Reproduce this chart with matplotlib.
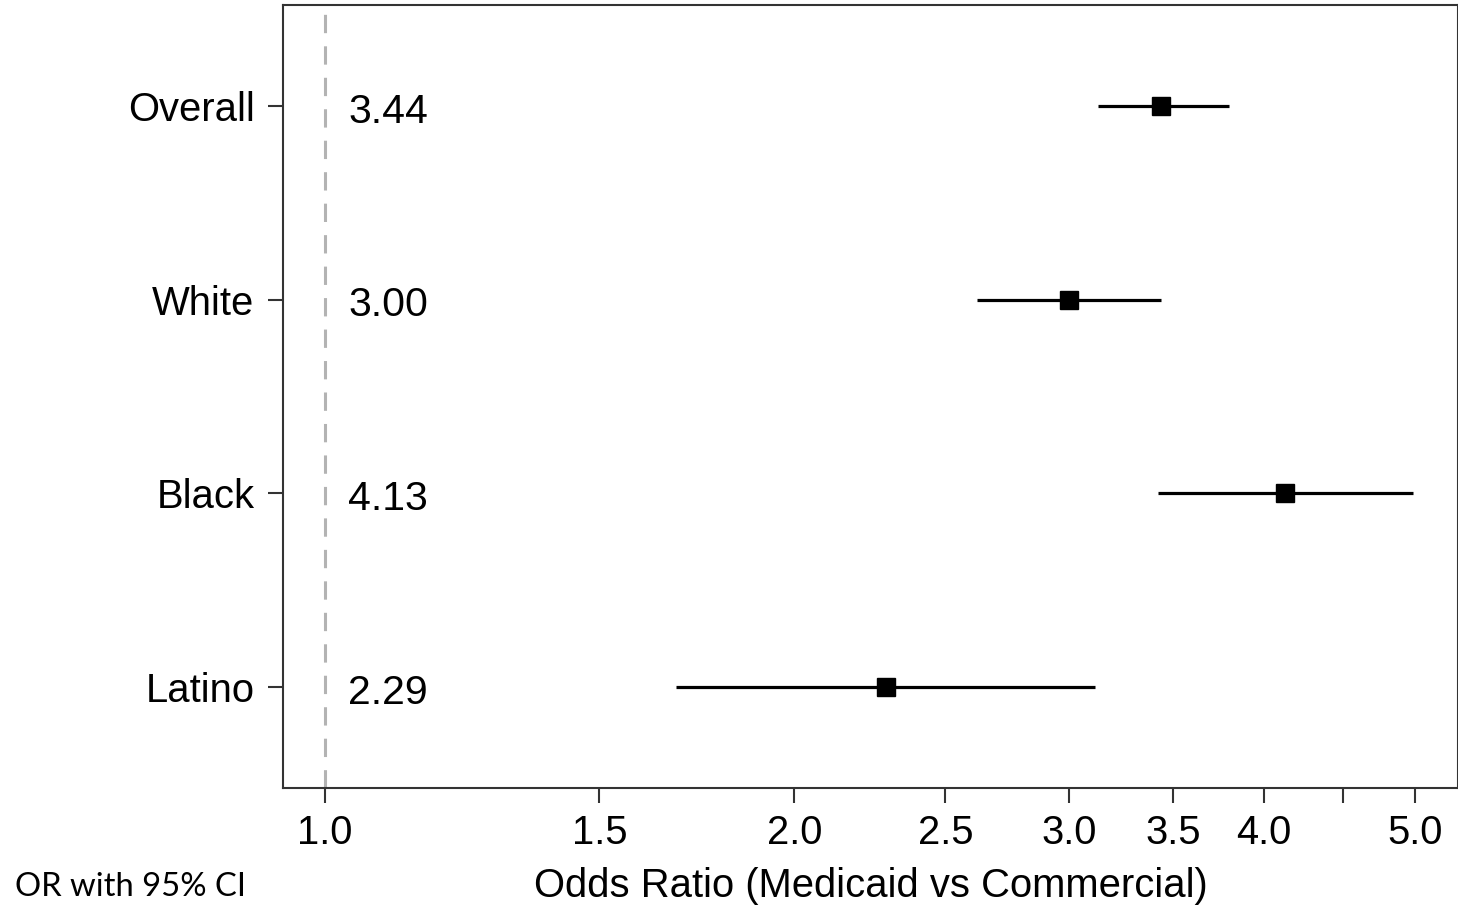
import numpy as np
import matplotlib
matplotlib.use("Agg")
from matplotlib import pyplot as plt
from matplotlib.ticker import FixedLocator, NullLocator

# Data
groups = ["Overall", "White", "Black", "Latino"]
odds_ratio = [3.44, 3.00, 4.13, 2.29]
ci_low = [3.13, 2.62, 3.42, 1.68]
ci_high = [3.80, 3.44, 4.99, 3.12]
tick_values = [1.0, 1.5, 2.0, 2.5, 3.0, 3.5, 4.0, 4.5, 5.0]
tick_labels = ["1.0", "1.5", "2.0", "2.5", "3.0", "3.5", "4.0", "", "5.0"]

plt.rcParams["font.family"] = ["Liberation Sans", "DejaVu Sans"]

fig = plt.figure(figsize=(14.58, 9.07), dpi=100)
ax = fig.add_axes([283 / 1458, 1 - 788 / 907, (1458 - 283) / 1458, (788 - 5) / 907])

ypos = np.arange(len(groups), 0, -1)

# reference line at OR = 1
ax.axvline(1.0, color="#b3b3b3", linestyle=(0, (6, 4.3)), linewidth=2.2, zorder=1)

for y, lo, hi in zip(ypos, ci_low, ci_high):
    ax.plot([lo, hi], [y, y], color="black", linewidth=2.3, solid_capstyle="butt", zorder=2)
ax.plot(odds_ratio, ypos, "s", color="black", markersize=13, zorder=3)

# printed OR values next to the reference line
for y, v in zip(ypos, odds_ratio):
    ax.text(1.035, y - 0.03, f"{v:.2f}", fontsize=29.5, ha="left", va="center")

ax.set_xscale("log")
ax.set_xlim(0.94, 5.33)
ax.set_ylim(0.48, 4.52)
ax.xaxis.set_major_locator(FixedLocator(tick_values))
ax.xaxis.set_minor_locator(NullLocator())
ax.set_xticklabels(tick_labels)
ax.set_yticks(ypos)
ax.set_yticklabels(groups)
ax.tick_params(axis="both", labelsize=28.8, length=10.5, width=1.5, color="#333333")
ax.tick_params(axis="y", pad=10)
ax.tick_params(axis="x", pad=8)
ax.set_xlabel("Odds Ratio (Medicaid vs Commercial)", fontsize=28.8, labelpad=11)
for s in ax.spines.values():
    s.set_linewidth(1.5)
    s.set_color("#333333")

fig.text(15 / 1458, 1 - 887 / 907, "OR with 95% CI", fontsize=23.6, family=["Lato", "DejaVu Sans"],
         ha="left", va="center")

fig.savefig("out.png", dpi=100)
